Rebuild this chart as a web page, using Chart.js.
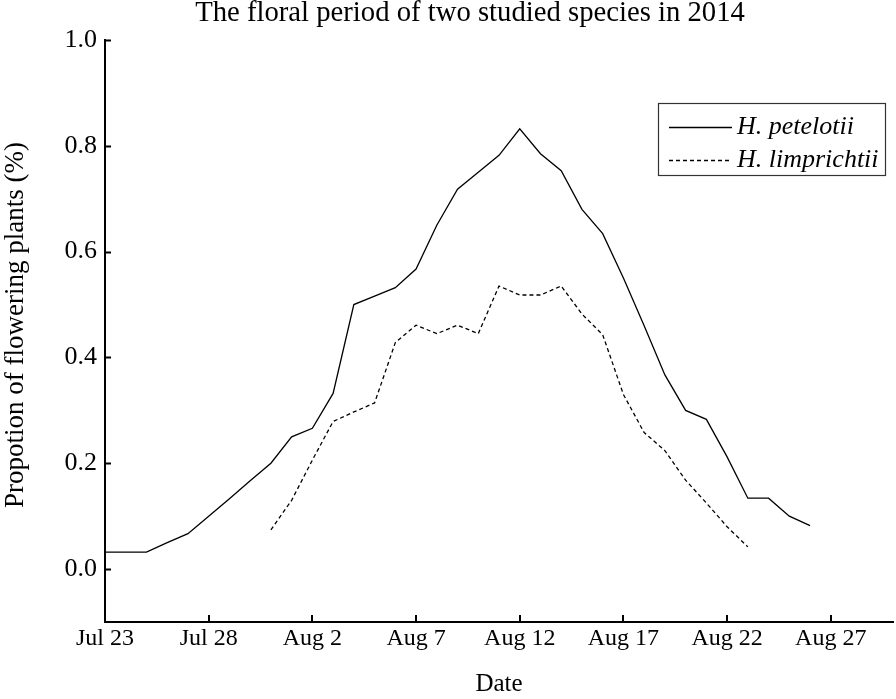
<!DOCTYPE html>
<html>
<head>
<meta charset="utf-8">
<script src="https://cdn.jsdelivr.net/npm/chart.js@4/dist/chart.umd.min.js"></script>
<style>
  html, body { margin: 0; padding: 0; background: #fff; }
  #wrap { width: 896px; height: 699px; }
</style>
</head>
<body>
<div id="wrap"><canvas id="c" width="896" height="699"></canvas></div>
<script>
// Days after Jul 23, 2014
const days = [0,1,2,3,4,5,6,7,8,9,10,11,12,13,14,15,16,17,18,19,20,21,22,23,24,25,26,27,28,29,30,31,32,33,34];
const petelotii = [0.032,0.032,0.032,0.05,0.067,0.10,0.133,0.167,0.20,0.25,0.266,0.332,0.50,0.516,0.532,0.567,0.65,0.718,0.75,0.782,0.832,0.785,0.753,0.68,0.634,0.55,0.46,0.367,0.30,0.283,0.212,0.134,0.134,0.10,0.082];
const limprichtii = [null,null,null,null,null,null,null,null,0.074,0.13,0.206,0.279,0.297,0.314,0.428,0.461,0.445,0.461,0.445,0.535,0.518,0.518,0.535,0.482,0.443,0.33,0.258,0.224,0.168,0.125,0.08,0.042,null,null,null];
const seriesNames = ['H. petelotii', 'H. limprichtii'];
const xTickDays = [0,5,10,15,20,25,30,35];
const xTickLabels = ['Jul 23','Jul 28','Aug 2','Aug 7','Aug 12','Aug 17','Aug 22','Aug 27'];
const yTickValues = [0,0.2,0.4,0.6,0.8,1.0];
const yTickLabels = ['0.0','0.2','0.4','0.6','0.8','1.0'];
const titleText = 'The floral period of two studied species in 2014';
const xTitle = 'Date';
const yTitle = 'Propotion of flowering plants (%)';

const SERIF = '"Liberation Serif", "Times New Roman", serif';

function toPoints(vals) {
  const pts = [];
  vals.forEach((v, i) => { if (v !== null) pts.push({ x: days[i], y: v }); });
  return pts;
}

const decorPlugin = {
  id: 'decor',
  afterDraw(chart) {
    const ctx = chart.ctx;
    const xs = chart.scales.x, ys = chart.scales.y;
    const ca = chart.chartArea;
    ctx.save();
    // inward tick marks
    ctx.strokeStyle = '#000';
    ctx.lineWidth = 2;
    ctx.setLineDash([]);
    xs.ticks.forEach(t => {
      const px = Math.round(xs.getPixelForValue(t.value));
      if (px <= ca.left + 1) return;
      ctx.beginPath();
      ctx.moveTo(px, ca.bottom);
      ctx.lineTo(px, ca.bottom - 7);
      ctx.stroke();
    });
    ys.ticks.forEach(t => {
      const py = Math.round(ys.getPixelForValue(t.value)) + 0.5;
      ctx.beginPath();
      ctx.moveTo(ca.left, py);
      ctx.lineTo(ca.left + 6, py);
      ctx.stroke();
    });
    // title
    ctx.fillStyle = '#000';
    ctx.font = '28.7px ' + SERIF;
    ctx.textAlign = 'center';
    ctx.textBaseline = 'alphabetic';
    ctx.fillText(titleText, 470, 21);
    // y axis title
    ctx.save();
    ctx.translate(16, 325);
    ctx.rotate(-Math.PI / 2);
    ctx.font = '27px ' + SERIF;
    ctx.textAlign = 'center';
    ctx.textBaseline = 'middle';
    ctx.fillText(yTitle, 0, 0);
    ctx.restore();
    // legend
    const bx = 658, by = 103, bw = 227, bh = 72;
    ctx.lineWidth = 1.2;
    ctx.strokeStyle = '#333';
    ctx.strokeRect(bx + 0.5, by + 0.5, bw, bh);
    const rows = [127, 160];
    chart.data.datasets.forEach((ds, i) => {
      ctx.strokeStyle = ds.borderColor;
      ctx.lineWidth = ds.borderWidth;
      ctx.setLineDash(ds.borderDash || []);
      ctx.beginPath();
      ctx.moveTo(669, rows[i] + 0.5);
      ctx.lineTo(732, rows[i] + 0.5);
      ctx.stroke();
      ctx.setLineDash([]);
      ctx.fillStyle = '#000';
      ctx.font = 'italic 26px ' + SERIF;
      ctx.textAlign = 'left';
      ctx.textBaseline = 'middle';
      ctx.fillText(ds.label, 737, rows[i]);
    });
    ctx.restore();
  }
};

new Chart(document.getElementById('c'), {
  type: 'line',
  data: {
    datasets: [
      { label: seriesNames[0], data: toPoints(petelotii), borderColor: '#000', borderWidth: 1.3, pointRadius: 0, fill: false, tension: 0 },
      { label: seriesNames[1], data: toPoints(limprichtii), borderColor: '#000', borderWidth: 1.3, borderDash: [4, 3], pointRadius: 0, fill: false, tension: 0 }
    ]
  },
  options: {
    responsive: false,
    animation: false,
    devicePixelRatio: 1,
    layout: { padding: { top: 40, right: 3, bottom: 0, left: 0 } },
    plugins: { legend: { display: false }, title: { display: false }, tooltip: { enabled: false } },
    scales: {
      x: {
        type: 'linear',
        min: 0, max: 38,
        grid: { display: false, drawTicks: false },
        border: { display: true, color: '#000', width: 2 },
        afterBuildTicks: s => { s.ticks = xTickDays.map(v => ({ value: v })); },
        afterFit: s => { s.height = 77; },
        ticks: {
          color: '#000',
          padding: 2,
          maxRotation: 0,
          autoSkip: false,
          font: { family: SERIF, size: 24 },
          callback: v => { const i = xTickDays.indexOf(v); return i >= 0 ? xTickLabels[i] : ''; }
        },
        title: { display: true, text: xTitle, color: '#000', font: { family: SERIF, size: 25 }, padding: { top: 0, bottom: 0 } }
      },
      y: {
        type: 'linear',
        min: -0.1, max: 1.0,
        grid: { display: false, drawTicks: false },
        border: { display: true, color: '#000', width: 2 },
        afterBuildTicks: s => { s.ticks = yTickValues.map(v => ({ value: v })); },
        afterFit: s => { s.width = 105; },
        ticks: {
          color: '#000',
          padding: 8,
          font: { family: SERIF, size: 26 },
          callback: v => { const i = yTickValues.findIndex(t => Math.abs(t - v) < 1e-9); return i >= 0 ? yTickLabels[i] : ''; }
        },
        title: { display: false }
      }
    }
  },
  plugins: [decorPlugin]
});
</script>
</body>
</html>
